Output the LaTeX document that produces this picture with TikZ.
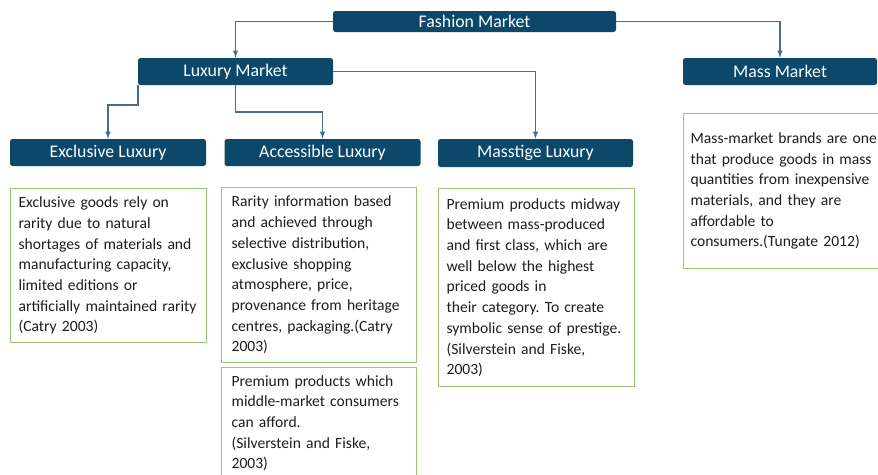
\documentclass[tikz,border=0pt]{standalone}
\usepackage{fontspec}
\setmainfont{Carlito}
\frenchspacing
\definecolor{headblue}{RGB}{12,72,106}
\definecolor{linkblue}{RGB}{66,110,145}
\definecolor{boxgreen}{RGB}{150,200,118}
\definecolor{bodytext}{RGB}{30,30,30}
\begin{document}
\begin{tikzpicture}[x=1pt, y=-1pt,
  head/.style={fill=headblue, text=white, rounded corners=2.5pt, inner sep=0pt,
    font=\fontsize{17.8}{20}\selectfont},
  desc/.style={draw=boxgreen, line width=1.2pt, fill=white, anchor=north west,
    inner xsep=8pt, inner ysep=0pt, align=left, text=bodytext,
    font=\fontsize{15.6}{20.7}\selectfont},
  link/.style={draw=linkblue, line width=1.5pt, >=latex, ->}]
  \clip (0,0) rectangle (878,474);
  % headings
  \node (fashion) [head, minimum width=283pt, minimum height=21pt] at (474.5,21.5) {Fashion Market};
  \node (luxury) [head, minimum width=195pt, minimum height=27pt] at (235.5,71.5) {Luxury Market};
  \node (mass) [head, minimum width=194pt, minimum height=27pt] at (780,71.5) {Mass Market};
  \node (exclusive) [head, minimum width=196pt, minimum height=27pt] at (108,152.5) {Exclusive Luxury};
  \node (accessible) [head, minimum width=196pt, minimum height=27pt] at (322.5,152.5) {Accessible Luxury};
  \node (masstige) [head, minimum width=195pt, minimum height=28pt] at (535.5,153) {Masstige Luxury};
  % descriptions
  \node (exdesc) [desc, text width=180pt, minimum height=154pt] at (10,188)
    {Exclusive goods rely on\\rarity due to natural\\shortages of materials and\\manufacturing capacity,\\limited editions or\\\mbox{artificially maintained rarity}\\(Catry 2003)};
  \node (acdesc) [desc, text width=175pt, inner xsep=10pt, minimum height=175pt] at (221,187)
    {Rarity information based\\and achieved through\\selective distribution,\\exclusive shopping\\atmosphere, price,\\provenance from heritage\\centres, packaging.(Catry\\2003)};
  \node (acdesc2) [desc, text width=175pt, inner xsep=10pt, minimum height=111pt] at (221,367)
    {Premium products which\\middle-market consumers\\can afford.\\(Silverstein and Fiske,\\2003)};
  \node (msdesc) [desc, text width=180pt, minimum height=198pt] at (438,188)
    {Premium products midway\\between mass-produced\\and first class, which are\\well below the highest\\priced goods in\\their category. To create\\\mbox{symbolic sense of prestige.}\\(Silverstein and Fiske,\\2003)};
  \node (massdesc) [desc, text width=196pt, inner xsep=7pt, minimum height=155pt] at (683,113)
    {Mass-market brands are one\\that produce goods in mass\\quantities from inexpensive\\materials, and they are\\affordable to\\consumers.(Tungate 2012)\\[9pt]};
  % connectors
  \draw [link] (fashion.west) -| (luxury.north);
  \draw [link] (fashion.east) -| (mass.north);
  \draw [link] (luxury.south west) -- ++(0,20) -| (exclusive.north);
  \draw [link] (luxury.south) -- ++(0,27) -| (accessible.north);
  \draw [link] (luxury.east) -| (masstige.north);
\end{tikzpicture}
\end{document}
